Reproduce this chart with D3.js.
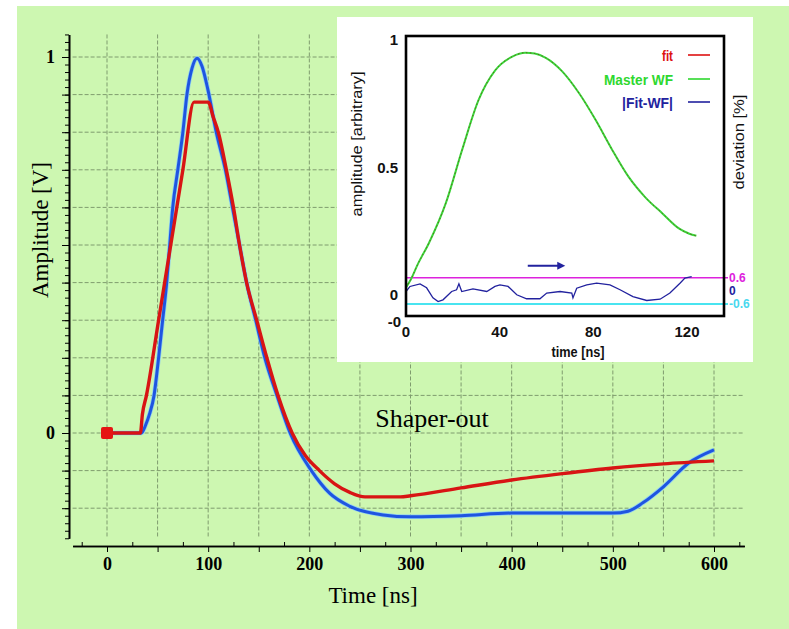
<!DOCTYPE html>
<html>
<head>
<meta charset="utf-8">
<script src="https://cdn.jsdelivr.net/npm/d3@7"></script>
<style>
  body { margin: 0; background: #fff; }
  svg { display: block; }
  .serif { font-family: 'Liberation Serif', 'DejaVu Serif', serif; }
  .narrow { font-family: 'Liberation Sans Narrow', 'Liberation Sans', 'DejaVu Sans Condensed', sans-serif; font-weight: bold; }
</style>
</head>
<body>
<svg id="chart" width="789" height="629"></svg>
<script>
/* ---------- main panel data ---------- */
const redTime = [0, 33, 35, 39, 51, 63, 75, 86, 100, 105, 110, 118, 125, 131, 138, 148, 158, 169, 183, 196, 210, 225, 240, 255, 290, 300, 350, 400, 450, 500, 550, 600];
const redAmp  = [0, 0, 0.05, 0.1, 0.3, 0.5, 0.7, 0.88, 0.88, 0.84, 0.8, 0.7, 0.6, 0.5, 0.4, 0.3, 0.2, 0.1, 0, -0.06, -0.1, -0.135, -0.158, -0.17, -0.17, -0.167, -0.146, -0.125, -0.108, -0.093, -0.082, -0.074];

const blueTime = [0, 34, 38, 42, 46.5, 51, 55, 59, 62, 65, 70, 75, 79, 84, 89, 94, 100, 108, 117, 124, 131, 138, 147, 156, 168, 181, 202, 220, 240, 273, 300, 350, 400, 500, 515, 530, 550, 575, 600];
const blueAmp  = [0, 0, 0.02, 0.05, 0.1, 0.2, 0.3, 0.4, 0.5, 0.6, 0.7, 0.8, 0.9, 0.97, 0.997, 0.975, 0.91, 0.8, 0.7, 0.6, 0.5, 0.4, 0.3, 0.2, 0.1, 0, -0.1, -0.16, -0.195, -0.218, -0.223, -0.22, -0.213, -0.213, -0.208, -0.185, -0.143, -0.08, -0.045];

const mainXLabels = [0, 100, 200, 300, 400, 500, 600];
const mainYLabels = [0, 1];

/* ---------- inset data ---------- */
const wfTime = [0, 2, 5, 9.8, 17, 24, 31, 38, 45.4, 51, 55, 59.7, 66.8, 74, 81, 88, 95, 102, 109.5, 116.7, 121, 124];
const wfAmp  = [0.03, 0.06, 0.12, 0.204, 0.36, 0.57, 0.765, 0.88, 0.935, 0.95, 0.947, 0.93, 0.876, 0.79, 0.686, 0.57, 0.464, 0.385, 0.32, 0.26, 0.24, 0.232];

const devTime = [0, 1.7, 6, 8.8, 11.5, 13.7, 15.8, 19.5, 21.6, 22.6, 23.8, 28.6, 34.5, 38, 40.1, 43.6, 47.3, 51.5, 57.2, 60.1, 65.8, 70.8, 71.3, 72.9, 77.2, 81.4, 87.1, 91.4, 96.9, 102.8, 108.5, 112.7, 117, 119.1, 122];
const devPct  = [-0.03, 0.2, 0.32, 0.14, -0.32, -0.49, -0.41, -0.03, 0.05, 0.32, -0.03, 0.09, -0.03, 0.2, 0.27, 0.2, -0.18, -0.36, -0.36, -0.1, -0.03, -0.1, -0.32, 0.12, 0.27, 0.35, 0.27, 0.05, -0.26, -0.44, -0.38, -0.1, 0.35, 0.58, 0.65];

const insetXLabels = [0, 40, 80, 120];
const insetYLabels = [0, 0.5, 1];
const devLimits = [0.6, -0.6];
const arrowTime = [52, 68];
const arrowDev = 1.14;
const legendNames = ['fit', 'Master WF', '|Fit-WF|'];
const legendColors = ['#dd1111', '#2fd82f', '#22229e'];
const legendWidths = [11, 69, 51];

const svg = d3.select('#chart');

// green page background
svg.append('rect').attr('x', 17).attr('y', 6).attr('width', 772).attr('height', 623).attr('fill', '#cdf7b1');

/* ---------------- main panel ---------------- */
const pxPerNs = (714 - 107) / 600;
const x = d3.scaleLinear().domain([-34, 630]).range([107 - 34 * pxPerNs, 107 + 630 * pxPerNs]);
const pxPerV = 376;
const y = d3.scaleLinear().domain([-0.28, 1.06]).range([433 + 0.28 * pxPerV, 433 - 1.06 * pxPerV]);

// grid
const grid = svg.append('g')
  .attr('stroke', '#7f9c6e').attr('stroke-width', 1).attr('stroke-dasharray', '4,2').attr('fill', 'none');
grid.selectAll('line.h').data(d3.range(-2, 11).map(i => i / 10)).join('line')
  .attr('class', 'h')
  .attr('x1', x(-34)).attr('x2', x(630))
  .attr('y1', d => y(d)).attr('y2', d => y(d));
grid.selectAll('line.v').data(d3.range(0, 601, 50)).join('line')
  .attr('class', 'v')
  .attr('x1', d => x(d)).attr('x2', d => x(d))
  .attr('y1', y(1.06)).attr('y2', y(-0.28));

// y axis: minor + major ticks
const yAxisX = 69;
svg.append('g').attr('transform', `translate(${yAxisX},0)`)
  .call(d3.axisLeft(y).tickValues(d3.range(-14, 54).map(i => i / 50)).tickSize(4).tickSizeOuter(0).tickFormat(''));
const yMajor = svg.append('g').attr('class', 'serif').attr('transform', `translate(${yAxisX},0)`)
  .call(d3.axisLeft(y).tickValues(d3.range(-2, 11).map(i => i / 10)).tickSize(7).tickSizeOuter(0).tickPadding(7)
    .tickFormat(d => mainYLabels.some(v => Math.abs(v - d) < 1e-9) ? d3.format('d')(d) : ''));
yMajor.selectAll('text').attr('font-size', 18).attr('font-weight', 'bold').attr('font-family', null);

// x axis: major ticks down, minor ticks up
const xAxisY = 546;
svg.append('g').attr('transform', `translate(0,${xAxisY})`)
  .call(d3.axisBottom(x).tickValues(d3.range(-25, 630, 50)).tickSize(-4).tickSizeOuter(0).tickFormat(''));
const xMajor = svg.append('g').attr('class', 'serif').attr('transform', `translate(0,${xAxisY})`)
  .call(d3.axisBottom(x).tickValues(d3.range(0, 601, 50)).tickSize(6).tickSizeOuter(0).tickPadding(5)
    .tickFormat(d => mainXLabels.includes(d) ? d : ''));
xMajor.selectAll('text').attr('font-size', 18).attr('font-weight', 'bold').attr('font-family', null);
svg.selectAll('.domain').attr('stroke-width', 1.6);

// axis titles
svg.append('text').attr('class', 'serif')
  .attr('transform', 'translate(48,230) rotate(-90)')
  .attr('text-anchor', 'middle').attr('font-size', 23)
  .text('Amplitude [V]');
svg.append('text').attr('class', 'serif')
  .attr('x', 373).attr('y', 603).attr('text-anchor', 'middle').attr('font-size', 23)
  .text('Time [ns]');
svg.append('text').attr('class', 'serif')
  .attr('x', 432).attr('y', 427).attr('text-anchor', 'middle').attr('font-size', 26)
  .text('Shaper-out');

// curves
const mainLine = d3.line().x(d => x(d[0])).y(d => y(d[1])).curve(d3.curveMonotoneX);
const bluePts = d3.zip(blueTime, blueAmp);
const redPts = d3.zip(redTime, redAmp);
svg.append('path').attr('d', mainLine(bluePts)).attr('fill', 'none')
  .attr('stroke', '#8fd0f0').attr('stroke-width', 4.5).attr('stroke-linejoin', 'round');
svg.append('path').attr('d', mainLine(bluePts)).attr('fill', 'none')
  .attr('stroke', '#1f55e0').attr('stroke-width', 3).attr('stroke-linejoin', 'round');
svg.append('path').attr('d', mainLine(redPts)).attr('fill', 'none')
  .attr('stroke', '#d81414').attr('stroke-width', 3.4).attr('stroke-linejoin', 'round');
svg.append('rect')
  .attr('x', x(redTime[0]) - 6).attr('y', y(redAmp[0]) - 6).attr('width', 12).attr('height', 12)
  .attr('rx', 2).attr('fill', '#e51414');

/* ---------------- inset ---------------- */
svg.append('rect').attr('x', 337).attr('y', 17).attr('width', 416).attr('height', 345).attr('fill', '#fff');

const xi = d3.scaleLinear().domain([0, 135.8]).range([406, 724]);
const yi = d3.scaleLinear().domain([0, 1]).range([295, 40]);
const yd = d3.scaleLinear().domain([-0.6, 0.6]).range([304, 277.7]);

// limit lines
svg.selectAll('line.lim').data(devLimits).join('line')
  .attr('class', 'lim')
  .attr('x1', xi(0)).attr('x2', 728)
  .attr('y1', d => yd(d)).attr('y2', d => yd(d))
  .attr('stroke', d => d > 0 ? '#dd22dd' : '#48e4f0')
  .attr('stroke-width', d => d > 0 ? 1.5 : 2.2);

// deviation curve
const devLine = d3.line().x(d => xi(d[0])).y(d => yd(d[1]));
svg.append('path').attr('d', devLine(d3.zip(devTime, devPct)))
  .attr('fill', 'none').attr('stroke', '#22229e').attr('stroke-width', 1.3);

// master waveform + fit
const wfLine = d3.line().x(d => xi(d[0])).y(d => yi(d[1])).curve(d3.curveMonotoneX);
const wfPts = d3.zip(wfTime, wfAmp);
svg.append('path').attr('d', wfLine(wfPts)).attr('fill', 'none')
  .attr('stroke', '#3ad83a').attr('stroke-width', 2);
svg.append('path').attr('d', wfLine(wfPts)).attr('fill', 'none')
  .attr('stroke', '#6a3a10').attr('stroke-width', 1).attr('stroke-dasharray', '1.5,2.5').attr('opacity', 0.7);

// arrow
svg.append('line')
  .attr('x1', xi(arrowTime[0])).attr('x2', xi(arrowTime[1]) - 6)
  .attr('y1', yd(arrowDev)).attr('y2', yd(arrowDev))
  .attr('stroke', '#22229e').attr('stroke-width', 2);
svg.append('path')
  .attr('d', `M${xi(arrowTime[1])},${yd(arrowDev)} l-8,-4 l0,8 z`)
  .attr('fill', '#22229e');

// frame
svg.append('rect').attr('x', 406).attr('y', 36).attr('width', 318).attr('height', 280)
  .attr('fill', 'none').attr('stroke', '#000').attr('stroke-width', 2.6);

// tick labels
const insetText = svg.append('g').attr('class', 'narrow').attr('font-size', 15).attr('fill', '#111');
insetText.selectAll('text.xt').data(insetXLabels).join('text')
  .attr('class', 'xt')
  .attr('x', d => xi(d)).attr('y', 337).attr('text-anchor', 'middle')
  .text(d => d);
insetText.selectAll('text.yt').data(insetYLabels).join('text')
  .attr('class', 'yt')
  .attr('x', 398).attr('y', d => yi(d) + 5).attr('text-anchor', 'end')
  .text(d => d);
insetText.append('text').attr('x', 401).attr('y', 327).attr('text-anchor', 'end').text('-0');

insetText.append('text').attr('x', 578).attr('y', 357).attr('text-anchor', 'middle').attr('font-size', 14)
  .attr('textLength', 53).attr('lengthAdjust', 'spacingAndGlyphs').text('time [ns]');
insetText.append('text').attr('transform', 'translate(362,144) rotate(-90)').attr('text-anchor', 'middle')
  .attr('font-size', 14).attr('font-weight', 'normal')
  .attr('textLength', 145).attr('lengthAdjust', 'spacingAndGlyphs').text('amplitude [arbitrary]');
insetText.append('text').attr('transform', 'translate(744,142) rotate(-90)').attr('text-anchor', 'middle')
  .attr('font-size', 14).attr('font-weight', 'normal')
  .attr('textLength', 95).attr('lengthAdjust', 'spacingAndGlyphs').text('deviation [%]');

// right-hand deviation labels
const devLabels = [[0.6, '0.6', '#dd22dd'], [0, '0', '#22229e'], [-0.6, '-0.6', '#48d8ee']];
svg.append('g').attr('class', 'narrow').attr('font-size', 12)
  .selectAll('text').data(devLabels).join('text')
  .attr('x', 729).attr('y', d => yd(d[0]) + 4)
  .attr('fill', d => d[2])
  .text(d => d[1]);

// legend
const legend = svg.append('g').attr('class', 'narrow').attr('font-size', 15);
const legY = [55, 79, 102];
legend.selectAll('text').data(legendNames).join('text')
  .attr('x', 673).attr('y', (d, i) => legY[i] + 6).attr('text-anchor', 'end')
  .attr('fill', (d, i) => legendColors[i])
  .attr('textLength', (d, i) => legendWidths[i]).attr('lengthAdjust', 'spacingAndGlyphs')
  .text(d => d);
legend.selectAll('line').data(legendNames).join('line')
  .attr('x1', 688).attr('x2', 710)
  .attr('y1', (d, i) => legY[i]).attr('y2', (d, i) => legY[i])
  .attr('stroke', (d, i) => legendColors[i]).attr('stroke-width', 1.6);
</script>
</body>
</html>
